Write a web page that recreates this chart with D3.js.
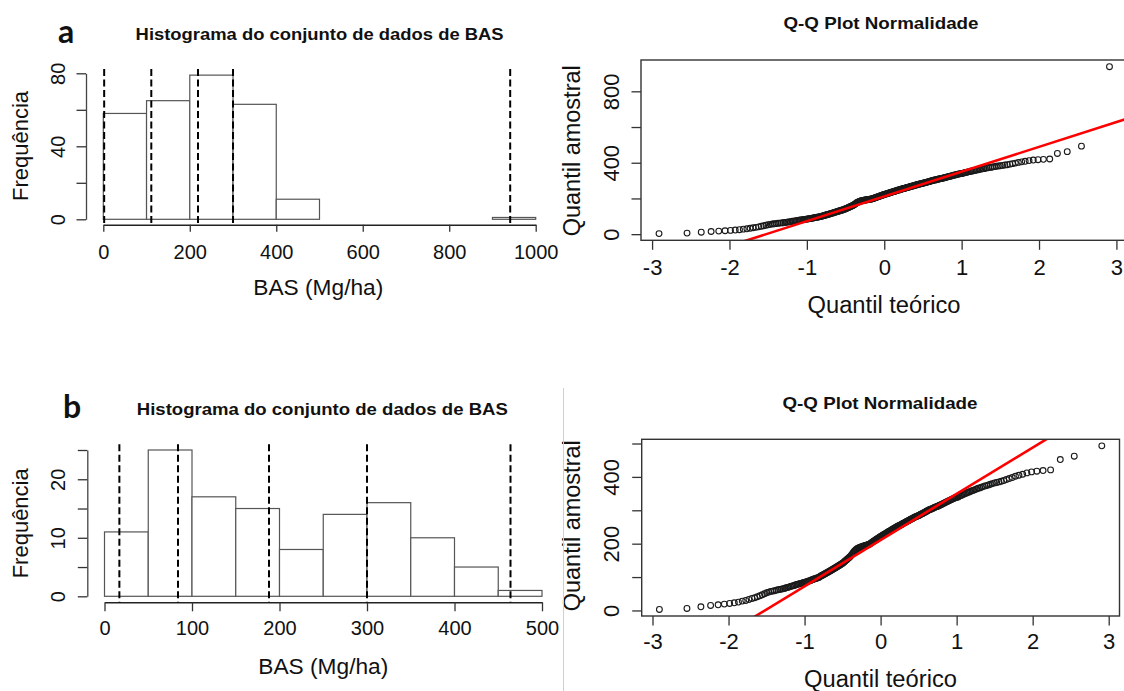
<!DOCTYPE html>
<html>
<head>
<meta charset="utf-8">
<script src="https://cdn.jsdelivr.net/npm/d3@7"></script>
<style>
body { margin: 0; background: #fff; }
text { font-family: "Liberation Sans", Arial, sans-serif; fill: #111; }
</style>
</head>
<body>
<svg id="chart" width="1124" height="691"></svg>
<script>
// histogram a (all plots)
var binEdgesA = [0, 100, 200, 300, 400, 500, 600, 700, 800, 900, 1000];
var countsA = [58, 65, 79, 63, 11, 0, 0, 0, 0, 1];
var dashA = [2, 111, 219, 300, 941];
var xTicksA = [0, 200, 400, 600, 800, 1000];
var yTicksA = [0, 20, 40, 60, 80];
var yLabelsA = [0, 40, 80];

// histogram b
var binEdgesB = [0, 50, 100, 150, 200, 250, 300, 350, 400, 450, 500];
var countsB = [11, 25, 17, 15, 8, 14, 16, 10, 5, 1];
var dashB = [17, 84, 188, 300, 464];
var xTicksB = [0, 100, 200, 300, 400, 500];
var yTicksB = [0, 5, 10, 15, 20, 25];
var yLabelsB = [0, 10, 20];

// BAS sample (Mg/ha), sorted
var sampleA = [
  3, 6, 11, 15, 17, 19, 21, 23, 25, 28, 30, 33, 36, 38, 41, 44, 47, 50, 53, 55,
  57, 58, 59, 61, 62, 63, 64, 65, 66, 68, 69, 70, 72, 73, 74, 75, 77, 78, 79, 80,
  81, 82, 83, 84, 85, 86, 87, 88, 89, 90, 92, 93, 94, 95, 96, 97, 98, 99,
  101, 103, 104, 106, 107, 109, 110, 112, 113, 115, 116, 118, 119, 121, 122, 124,
  125, 127, 128, 130, 131, 133, 134, 136, 137, 139, 140, 142,
  144, 146, 148, 150, 152, 154, 156, 158, 160, 162,
  165, 168, 171, 174, 177, 179, 181, 183, 185,
  186, 187, 188, 189, 190, 190, 191, 192, 193, 193, 194, 195, 195, 196, 197, 197, 198, 199,
  201, 202, 204, 205, 207, 208, 209, 211, 212, 214, 215, 216, 218, 219, 221, 222,
  223, 224, 226, 227, 228, 229, 231, 232, 233, 234, 236, 237, 238, 239, 241, 242,
  243, 244, 246, 247, 248, 249, 251, 252, 253, 254, 255,
  256, 257, 258, 260, 261, 262, 263, 264, 266, 267, 268, 269, 270, 272, 273, 274,
  275, 276, 278, 279, 280, 281, 282, 283, 284, 285,
  286, 288, 289, 290, 291, 293, 294, 295, 297, 298,
  300, 301, 302, 303, 304, 305, 306, 308, 309, 310, 311, 312, 313, 315, 316,
  317, 319, 320, 322, 323, 325, 326, 328, 329, 331, 332, 334, 335, 337, 338, 339, 340,
  342, 344, 345, 347, 349, 350, 352, 354, 355, 357, 359, 360,
  362, 364, 366, 367, 369, 371, 373, 374, 376,
  378, 380, 382, 383, 385, 387, 389, 392, 395, 398,
  402, 405, 408, 412, 415, 417, 419, 421, 452, 462, 493,
  938
];
// b: same sample without the outlier
var sampleB = sampleA.filter(function(v) { return v < 900; });

var qqXTicks = [-3, -2, -1, 0, 1, 2, 3];
var qqYTicksA = [0, 200, 400, 600, 800];
var qqYLabelsA = [0, 400, 800];
var qqYTicksB = [0, 100, 200, 300, 400, 500];
var qqYLabelsB = [0, 200, 400];

var svg = d3.select('#chart');

// inverse normal cdf (Acklam)
function qnorm(p) {
  var a = [-3.969683028665376e+01, 2.209460984245205e+02, -2.759285104469687e+02, 1.383577518672690e+02, -3.066479806614716e+01, 2.506628277459239e+00];
  var b = [-5.447609879822406e+01, 1.615858368580409e+02, -1.556989798598866e+02, 6.680131188771972e+01, -1.328068155288572e+01];
  var c = [-7.784894002430293e-03, -3.223964580411365e-01, -2.400758277161838e+00, -2.549732539343734e+00, 4.374664141464968e+00, 2.938163982698783e+00];
  var d = [7.784695709041462e-03, 3.224671290700398e-01, 2.445134137142996e+00, 3.754408661907416e+00];
  var q, r;
  if (p < 0.02425) {
    q = Math.sqrt(-2 * Math.log(p));
    return (((((c[0]*q+c[1])*q+c[2])*q+c[3])*q+c[4])*q+c[5]) / ((((d[0]*q+d[1])*q+d[2])*q+d[3])*q+1);
  }
  if (p > 1 - 0.02425) {
    q = Math.sqrt(-2 * Math.log(1 - p));
    return -(((((c[0]*q+c[1])*q+c[2])*q+c[3])*q+c[4])*q+c[5]) / ((((d[0]*q+d[1])*q+d[2])*q+d[3])*q+1);
  }
  q = p - 0.5; r = q * q;
  return (((((a[0]*r+a[1])*r+a[2])*r+a[3])*r+a[4])*r+a[5])*q / (((((b[0]*r+b[1])*r+b[2])*r+b[3])*r+b[4])*r+1);
}

// R prints plain numbers with an ascii minus
function rnum(d) { return String(d); }

function label(txt, x, y, size, opts) {
  opts = opts || {};
  var t = svg.append('text')
    .attr('x', x).attr('y', y)
    .attr('font-size', size)
    .attr('text-anchor', opts.anchor || 'middle')
    .text(txt);
  if (opts.bold) t.attr('font-weight', 'bold');
  if (opts.len) t.attr('textLength', opts.len).attr('lengthAdjust', 'spacingAndGlyphs');
  if (opts.rotate) t.attr('x', 0).attr('y', 0).attr('transform', 'translate(' + x + ',' + y + ') rotate(-90)');
  if (opts.family) t.style('font-family', opts.family);
  return t;
}

function styleAxis(g, size) {
  g.attr('font-family', null).attr('font-size', size);
  g.selectAll('line').attr('stroke', '#333').attr('stroke-width', 1.3);
  g.selectAll('path').attr('stroke', '#222').attr('stroke-width', 1.5);
}

function rotateYLabels(g, off, labels) {
  g.selectAll('text')
    .text(function(d) { return labels.indexOf(d) >= 0 ? rnum(d) : ''; })
    .attr('transform', 'rotate(-90)')
    .attr('x', 0).attr('y', off).attr('dy', 0)
    .attr('text-anchor', 'middle');
}

function drawHist(cfg) {
  var x = d3.scaleLinear().domain(d3.extent(cfg.edges)).range(cfg.xRange);
  var y = d3.scaleLinear().domain(d3.extent(cfg.yTicks)).range(cfg.yRange);

  var bars = cfg.counts.map(function(c, i) { return {x0: cfg.edges[i], x1: cfg.edges[i + 1], n: c}; });
  svg.append('g').selectAll('rect').data(bars).enter().append('rect')
    .attr('x', function(d) { return x(d.x0); })
    .attr('width', function(d) { return x(d.x1) - x(d.x0); })
    .attr('y', function(d) { return y(d.n); })
    .attr('height', function(d) { return y(0) - y(d.n); })
    .attr('fill', '#fff')
    .attr('stroke', '#555')
    .attr('stroke-width', 1.2);

  var gx = svg.append('g')
    .attr('transform', 'translate(0,' + cfg.axisY + ')')
    .call(d3.axisBottom(x).tickValues(cfg.xTicks).tickFormat(rnum).tickSize(cfg.xTickLen).tickSizeOuter(0));
  styleAxis(gx, 20);
  gx.selectAll('text').attr('y', cfg.xLabelOff).attr('dy', 0);

  var gy = svg.append('g')
    .attr('transform', 'translate(' + cfg.axisX + ',0)')
    .call(d3.axisLeft(y).tickValues(cfg.yTicks).tickSize(cfg.yTickLen).tickSizeOuter(0));
  styleAxis(gy, 20);
  gy.select('path').attr('stroke', '#444').attr('stroke-width', 1.3);
  rotateYLabels(gy, cfg.yLabelOff, cfg.yLabels);

  svg.append('g').selectAll('line').data(cfg.dash).enter().append('line')
    .attr('x1', function(d) { return x(d); })
    .attr('x2', function(d) { return x(d); })
    .attr('y1', cfg.dashTop)
    .attr('y2', cfg.axisY)
    .attr('stroke', '#000')
    .attr('stroke-width', 2)
    .attr('stroke-dasharray', '7,3.5');

  label(cfg.title, cfg.titleX, cfg.titleY, 17, {bold: true, len: cfg.titleLen});
  label('BAS (Mg/ha)', cfg.xTitleX, cfg.xTitleY, 22, {len: 130});
  label('Frequência', 28, cfg.yTitleY, 22, {rotate: true});
  label(cfg.tag, cfg.tagX, cfg.tagY, 32, {bold: true, anchor: 'start', family: 'Lato, "Open Sans", sans-serif'});
}

function drawQQ(cfg) {
  var sorted = cfg.sample.slice().sort(d3.ascending);
  var n = sorted.length;
  var pts = sorted.map(function(v, i) { return {q: qnorm((i + 0.5) / n), v: v}; });
  var qe = d3.extent(pts, function(d) { return d.q; });
  var ve = d3.extent(sorted);
  var px = (qe[1] - qe[0]) * 0.04, py = (ve[1] - ve[0]) * 0.04;
  var x = d3.scaleLinear().domain([qe[0] - px, qe[1] + px]).range(cfg.xRange);
  var y = d3.scaleLinear().domain([ve[0] - py, ve[1] + py]).range(cfg.yRange);

  var gx = svg.append('g')
    .attr('transform', 'translate(0,' + cfg.yRange[0] + ')')
    .call(d3.axisBottom(x).tickValues(qqXTicks).tickFormat(rnum).tickSize(9.5).tickSizeOuter(0));
  styleAxis(gx, 22);
  gx.select('path').remove();
  gx.selectAll('text').attr('y', cfg.xLabelOff).attr('dy', 0);

  var gy = svg.append('g')
    .attr('transform', 'translate(' + cfg.xRange[0] + ',0)')
    .call(d3.axisLeft(y).tickValues(cfg.yTicks).tickSize(9.5).tickSizeOuter(0));
  styleAxis(gy, 22);
  gy.select('path').remove();
  rotateYLabels(gy, cfg.yLabelOff, cfg.yLabels);

  svg.append('g').selectAll('circle').data(pts).enter().append('circle')
    .attr('cx', function(d) { return x(d.q); })
    .attr('cy', function(d) { return y(d.v); })
    .attr('r', 2.9)
    .attr('fill', 'none')
    .attr('stroke', '#1a1a1a')
    .attr('stroke-width', 1.1);

  // qqline through the quartiles
  var z1 = qnorm(0.25), z3 = qnorm(0.75);
  var s1 = d3.quantile(sorted, 0.25), s3 = d3.quantile(sorted, 0.75);
  var slope = (s3 - s1) / (z3 - z1), icpt = s1 - slope * z1;
  svg.append('clipPath').attr('id', cfg.id)
    .append('rect')
    .attr('x', cfg.xRange[0]).attr('y', cfg.yRange[1])
    .attr('width', cfg.xRange[1] - cfg.xRange[0])
    .attr('height', cfg.yRange[0] - cfg.yRange[1]);
  var xd = x.domain();
  svg.append('line')
    .attr('clip-path', 'url(#' + cfg.id + ')')
    .attr('x1', x(xd[0])).attr('y1', y(icpt + slope * xd[0]))
    .attr('x2', x(xd[1])).attr('y2', y(icpt + slope * xd[1]))
    .attr('stroke', '#f00')
    .attr('stroke-width', 2.6);

  svg.append('rect')
    .attr('x', cfg.xRange[0]).attr('y', cfg.yRange[1])
    .attr('width', cfg.xRange[1] - cfg.xRange[0])
    .attr('height', cfg.yRange[0] - cfg.yRange[1])
    .attr('fill', 'none')
    .attr('stroke', '#333')
    .attr('stroke-width', 1.4);

  label('Q-Q Plot Normalidade', cfg.titleX, cfg.titleY, 17, {bold: true, len: 195});
  label('Quantil teórico', cfg.xTitleX, cfg.xTitleY, 23.5, {len: 153});
  label('Quantil amostral', 580, cfg.yTitleY, 23.5, {rotate: true});
}

drawHist({
  edges: binEdgesA, counts: countsA, dash: dashA,
  xTicks: xTicksA, yTicks: yTicksA, yLabels: yLabelsA,
  xRange: [103.3, 535.7], yRange: [219.3, 73.3],
  axisY: 224.7, xTickLen: 7, xLabelOff: 34,
  axisX: 86, yTickLen: 9.5, yLabelOff: -21,
  dashTop: 69,
  title: 'Histograma do conjunto de dados de BAS', titleX: 319.6, titleY: 39.5, titleLen: 368,
  xTitleX: 318.3, xTitleY: 295, yTitleY: 146,
  tag: 'a', tagX: 58, tagY: 43
});

drawHist({
  edges: binEdgesB, counts: countsB, dash: dashB,
  xTicks: xTicksB, yTicks: yTicksB, yLabels: yLabelsB,
  xRange: [104.5, 542], yRange: [596.3, 450],
  axisY: 602.3, xTickLen: 9, xLabelOff: 33,
  axisX: 87.3, yTickLen: 9.5, yLabelOff: -22,
  dashTop: 444.3,
  title: 'Histograma do conjunto de dados de BAS', titleX: 322.3, titleY: 414.5, titleLen: 371,
  xTitleX: 323.3, xTitleY: 674, yTitleY: 523.3,
  tag: 'b', tagX: 63, tagY: 418
});

drawQQ({
  id: 'clipA', sample: sampleA,
  xRange: [641, 1127.5], yRange: [240.3, 60],
  yTicks: qqYTicksA, yLabels: qqYLabelsA,
  xLabelOff: 35, yLabelOff: -21.6,
  titleX: 881, titleY: 29, xTitleX: 884, xTitleY: 313, yTitleY: 150.8
});

drawQQ({
  id: 'clipB', sample: sampleB,
  xRange: [641.7, 1119.5], yRange: [616, 439.3],
  yTicks: qqYTicksB, yLabels: qqYLabelsB,
  xLabelOff: 33.2, yLabelOff: -22.3,
  titleX: 880, titleY: 409, xTitleX: 880.5, xTitleY: 687, yTitleY: 525.8
});

// thin separator in the lower half
svg.append('line')
  .attr('x1', 563.5).attr('x2', 563.5)
  .attr('y1', 388).attr('y2', 691)
  .attr('stroke', '#d0d0d0')
  .attr('stroke-width', 1);
</script>
</body>
</html>
